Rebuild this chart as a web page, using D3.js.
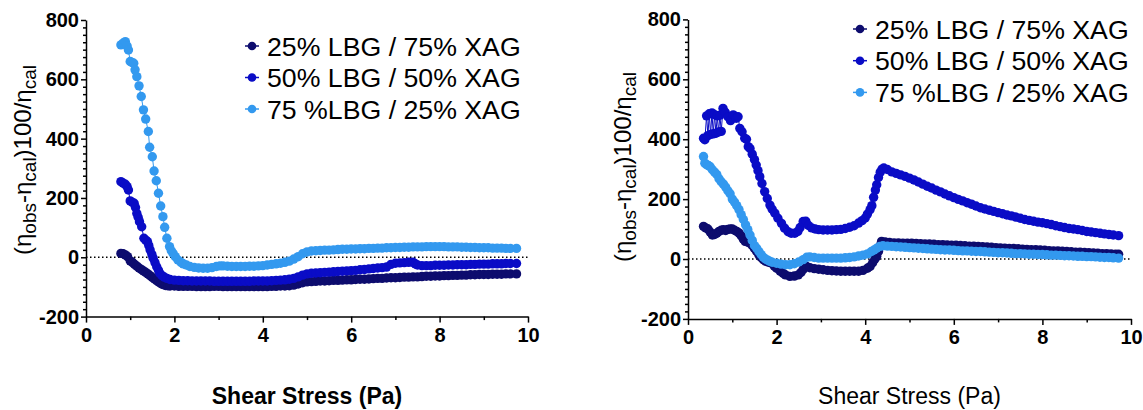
<!DOCTYPE html>
<html>
<head>
<meta charset="utf-8">
<script src="https://cdn.jsdelivr.net/npm/d3@7"></script>
<style>
  body { margin: 0; background: #fff; }
  svg { display: block; }
  text { font-family: "Liberation Sans", Arial, Helvetica, sans-serif; fill: #000; }
</style>
</head>
<body>
<svg id="chart" width="1143" height="410"></svg>
<script>
// ---- tick values ----
const xTickValues = [0, 2, 4, 6, 8, 10];
const xMinorValues = [1, 3, 5, 7, 9];
const yTickValues = [-200, 0, 200, 400, 600, 800];
const yMinorValues = [-175, -150, -125, -100, -75, -50, -25, 25, 50, 75, 100, 125, 150, 175,
  225, 250, 275, 300, 325, 350, 375, 425, 450, 475, 500, 525, 550, 575,
  625, 650, 675, 700, 725, 750, 775];

// ---- series ----
const seriesNames = ["25% LBG / 75% XAG", "50% LBG / 50% XAG", "75 %LBG / 25% XAG"];
const seriesColors = ["#0d0c6e", "#0a0cc6", "#3399ef"];

// left panel: [shear stress (Pa), (ηobs-ηcal)100/ηcal]
const leftLBG25 = [[0.79,13],[0.84,12],[0.89,8],[0.94,2],[1.0,-12],[1.05,-17],[1.1,-24],[1.15,-30],[1.2,-36],[1.25,-41],
  [1.3,-46],[1.35,-51],[1.4,-56],[1.45,-62],[1.5,-68],[1.55,-73],[1.6,-79],[1.65,-84],[1.7,-89],[1.75,-92],[1.8,-95],
  [1.85,-96],[1.9,-97],[2.0,-97],[2.1,-98],[2.2,-98],[2.3,-98],[2.4,-98],[2.5,-99],[2.6,-99],[2.7,-99],[2.8,-99],
  [2.9,-98],[3.0,-98],[3.1,-99],[3.2,-99],[3.3,-99],[3.4,-99],[3.5,-99],[3.6,-99],[3.7,-99],[3.8,-99],[3.9,-99],
  [4.0,-99],[4.1,-99],[4.2,-98],[4.3,-98],[4.4,-97],[4.5,-97],[4.6,-96],[4.7,-94],[4.8,-90],[4.9,-86],[5.0,-83],
  [5.1,-82],[5.2,-81],[5.3,-80],[5.4,-80],[5.5,-79],[5.6,-78],[5.7,-78],[5.8,-77],[5.9,-76],[6.0,-76],[6.1,-75],
  [6.2,-74],[6.3,-74],[6.4,-73],[6.5,-72],[6.6,-71],[6.7,-71],[6.8,-70],[6.9,-69],[7.0,-69],[7.1,-68],[7.2,-67],
  [7.3,-67],[7.4,-66],[7.5,-66],[7.6,-65],[7.7,-64],[7.8,-64],[7.9,-63],[8.0,-63],[8.1,-62],[8.2,-62],[8.3,-61],
  [8.4,-61],[8.5,-60],[8.6,-60],[8.7,-59],[8.8,-59],[8.9,-58],[9.0,-58],[9.1,-58],[9.2,-57],[9.3,-57],[9.4,-57],
  [9.5,-56],[9.6,-56],[9.74,-56]];
const leftLBG50 = [[0.79,255],[0.84,250],[0.89,246],[0.93,238],[0.96,227],[1.0,190],[1.05,185],[1.09,182],[1.12,168],
  [1.15,148],[1.18,135],[1.21,120],[1.26,103],[1.31,64],[1.35,58],[1.39,53],[1.42,40],[1.45,25],[1.49,10],[1.52,-3],
  [1.56,-18],[1.6,-32],[1.64,-44],[1.67,-54],[1.72,-62],[1.77,-67],[1.83,-71],[1.9,-75],[2.0,-77],[2.1,-78],[2.2,-79],
  [2.3,-79],[2.4,-80],[2.5,-80],[2.6,-80],[2.7,-80],[2.8,-80],[2.9,-81],[3.0,-81],[3.1,-81],[3.2,-81],[3.3,-81],
  [3.4,-81],[3.5,-81],[3.6,-81],[3.7,-81],[3.8,-80],[3.9,-80],[4.0,-80],[4.1,-80],[4.2,-79],[4.3,-78],[4.4,-77],
  [4.5,-76],[4.6,-74],[4.7,-71],[4.8,-66],[4.9,-60],[5.0,-56],[5.1,-54],[5.2,-53],[5.3,-52],[5.4,-51],[5.5,-50],
  [5.6,-49],[5.7,-48],[5.8,-47],[5.9,-46],[6.0,-45],[6.1,-44],[6.2,-42],[6.3,-41],[6.4,-39],[6.5,-38],[6.6,-36],
  [6.7,-35],[6.8,-33],[6.9,-24],[7.0,-20],[7.1,-19],[7.2,-18],[7.3,-17],[7.4,-17],[7.45,-22],[7.5,-26],[7.6,-28],
  [7.7,-28],[7.8,-28],[7.9,-27],[8.0,-27],[8.1,-27],[8.2,-26],[8.3,-26],[8.4,-25],[8.5,-25],[8.6,-25],[8.7,-24],
  [8.8,-24],[8.9,-23],[9.0,-23],[9.1,-23],[9.2,-22],[9.3,-22],[9.4,-22],[9.5,-21],[9.6,-21],[9.74,-21]];
const leftLBG75 = [[0.79,716],[0.84,722],[0.89,727],[0.93,712],[0.96,699],[1.0,660],[1.04,657],[1.08,654],[1.11,632],
  [1.15,609],[1.2,578],[1.25,542],[1.3,497],[1.35,466],[1.41,424],[1.44,371],[1.5,339],[1.54,291],[1.59,258],
  [1.64,216],[1.69,173],[1.74,137],[1.78,101],[1.83,64],[1.89,36],[1.93,22],[1.97,13],[2.02,2],[2.08,-9],[2.15,-17],
  [2.2,-22],[2.27,-26],[2.35,-31],[2.45,-34],[2.55,-36],[2.65,-37],[2.75,-37],[2.85,-35],[2.95,-31],[3.03,-29],
  [3.1,-29],[3.2,-30],[3.3,-31],[3.4,-31],[3.5,-31],[3.6,-31],[3.7,-30],[3.8,-30],[3.9,-29],[4.0,-28],[4.1,-26],
  [4.2,-24],[4.3,-22],[4.4,-20],[4.5,-17],[4.6,-13],[4.7,-6],[4.8,2],[4.9,12],[5.0,18],[5.1,21],[5.2,22],[5.3,23],
  [5.4,24],[5.5,24],[5.6,25],[5.7,26],[5.8,27],[5.9,27],[6.0,28],[6.1,28],[6.2,29],[6.3,29],[6.4,30],[6.5,30],
  [6.6,31],[6.7,31],[6.8,32],[6.9,32],[7.0,33],[7.1,33],[7.2,34],[7.3,34],[7.4,35],[7.5,35],[7.6,35],[7.7,36],
  [7.8,36],[7.9,36],[8.0,36],[8.1,36],[8.2,35],[8.3,35],[8.4,35],[8.5,34],[8.6,34],[8.7,33],[8.8,33],[8.9,32],
  [9.0,32],[9.1,32],[9.2,31],[9.3,31],[9.4,31],[9.5,30],[9.6,30],[9.74,30]];

// right panel
const rightLBG25 = [[0.35,109],[0.4,104],[0.45,100],[0.5,90],[0.55,80],[0.6,82],[0.65,86],[0.7,92],[0.75,96],[0.8,98],
  [0.85,95],[0.9,99],[0.95,100],[1.0,100],[1.05,96],[1.1,92],[1.15,87],[1.2,78],[1.25,66],[1.29,59],[1.35,56],
  [1.4,53],[1.45,45],[1.5,35],[1.55,25],[1.6,14],[1.65,5],[1.7,-2],[1.75,-7],[1.8,-10],[1.87,-13],[1.95,-24],
  [2.0,-31],[2.08,-41],[2.15,-48],[2.2,-53],[2.3,-58],[2.4,-57],[2.49,-53],[2.55,-45],[2.6,-35],[2.68,-25],[2.75,-29],
  [2.85,-32],[2.95,-34],[3.05,-36],[3.15,-38],[3.25,-39],[3.35,-40],[3.45,-41],[3.55,-41],[3.65,-41],[3.75,-41],
  [3.85,-41],[3.95,-38],[4.05,-31],[4.11,-25],[4.17,-12],[4.22,0],[4.26,9],[4.3,25],[4.34,45],[4.37,59],[4.45,57],
  [4.55,55],[4.65,54],[4.75,54],[4.85,53],[4.95,53],[5.05,53],[5.15,52],[5.25,51],[5.35,50],[5.45,50],[5.55,49],
  [5.65,48],[5.75,48],[5.85,47],[5.95,46],[6.05,46],[6.15,45],[6.25,44],[6.35,43],[6.45,43],[6.55,42],[6.65,41],
  [6.75,40],[6.85,39],[6.95,38],[7.05,37],[7.15,36],[7.25,35],[7.35,35],[7.45,34],[7.55,33],[7.65,32],[7.75,31],
  [7.85,31],[7.95,30],[8.05,29],[8.15,28],[8.25,27],[8.35,27],[8.45,26],[8.55,25],[8.65,24],[8.75,23],[8.85,23],
  [8.95,22],[9.05,21],[9.15,20],[9.25,19],[9.35,18],[9.45,18],[9.55,17],[9.65,16],[9.72,16]];
const rightLBG50 = [[0.35,403],[0.38,398],[0.42,478],[0.45,412],[0.48,485],[0.51,416],[0.54,488],[0.57,418],[0.6,482],
  [0.63,420],[0.66,478],[0.69,424],[0.72,480],[0.75,426],[0.79,503],[0.84,490],[0.9,475],[0.96,462],[1.02,481],
  [1.06,476],[1.09,470],[1.13,475],[1.17,436],[1.22,425],[1.28,403],[1.32,400],[1.36,375],[1.4,369],[1.45,350],
  [1.5,332],[1.54,314],[1.58,295],[1.62,275],[1.67,252],[1.73,225],[1.79,202],[1.85,180],[1.9,166],[1.96,153],
  [2.03,136],[2.11,119],[2.18,103],[2.26,91],[2.33,86],[2.41,86],[2.48,92],[2.53,105],[2.6,125],[2.66,126],
  [2.72,112],[2.79,104],[2.87,100],[2.95,98],[3.05,97],[3.15,97],[3.25,97],[3.35,98],[3.45,99],[3.55,102],
  [3.65,106],[3.75,111],[3.85,120],[3.93,128],[4.0,137],[4.05,150],[4.11,165],[4.15,178],[4.19,206],[4.23,230],
  [4.26,248],[4.3,272],[4.34,290],[4.38,300],[4.42,304],[4.5,299],[4.6,291],[4.7,286],[4.8,281],[4.9,276],[5.0,270],
  [5.1,264],[5.2,257],[5.3,250],[5.4,243],[5.5,237],[5.6,230],[5.7,224],[5.8,217],[5.9,211],[6.0,205],[6.1,199],
  [6.2,194],[6.3,188],[6.4,183],[6.5,177],[6.6,171],[6.7,167],[6.8,163],[6.9,159],[7.0,155],[7.1,151],[7.2,147],
  [7.3,144],[7.4,140],[7.5,136],[7.6,132],[7.7,129],[7.8,126],[7.9,123],[8.0,121],[8.1,118],[8.2,115],[8.3,111],
  [8.4,108],[8.5,105],[8.6,102],[8.7,100],[8.8,98],[8.9,95],[9.0,92],[9.1,90],[9.2,88],[9.3,86],[9.4,84],[9.5,82],
  [9.6,80],[9.72,78]];
const rightLBG75 = [[0.35,342],[0.38,320],[0.42,315],[0.46,312],[0.5,308],[0.55,298],[0.6,290],[0.65,282],[0.7,268],
  [0.75,258],[0.8,250],[0.85,240],[0.9,228],[0.95,218],[1.0,200],[1.05,190],[1.1,178],[1.15,165],[1.2,148],
  [1.25,132],[1.3,114],[1.35,98],[1.4,80],[1.45,62],[1.5,45],[1.55,36],[1.6,25],[1.65,15],[1.7,6],[1.75,0],[1.8,-4],
  [1.85,-8],[1.9,-11],[2.0,-14],[2.1,-17],[2.2,-19],[2.3,-19],[2.4,-16],[2.5,-10],[2.6,-2],[2.68,6],[2.75,7],
  [2.85,5],[2.95,3],[3.05,3],[3.15,3],[3.25,3],[3.35,3],[3.45,3],[3.55,4],[3.65,5],[3.75,7],[3.85,10],[3.95,13],
  [4.05,17],[4.14,25],[4.2,30],[4.26,36],[4.33,42],[4.4,44],[4.5,43],[4.6,42],[4.7,41],[4.8,40],[4.9,39],[5.0,38],
  [5.1,37],[5.2,36],[5.3,35],[5.4,34],[5.5,33],[5.6,32],[5.7,31],[5.8,30],[5.9,30],[6.0,29],[6.1,28],[6.2,27],
  [6.3,27],[6.4,26],[6.5,25],[6.6,25],[6.7,24],[6.8,23],[6.9,22],[7.0,21],[7.1,21],[7.2,20],[7.3,19],[7.4,18],
  [7.5,18],[7.6,17],[7.7,16],[7.8,16],[7.9,15],[8.0,15],[8.1,14],[8.2,13],[8.3,13],[8.4,12],[8.5,11],[8.6,11],
  [8.7,10],[8.8,9],[8.9,9],[9.0,8],[9.1,8],[9.2,7],[9.3,6],[9.4,5],[9.5,5],[9.6,4],[9.72,3]];

const svg = d3.select("#chart");
const FONT = '"Liberation Sans", Arial, Helvetica, sans-serif';

function drawPanel(p) {
  const x = d3.scaleLinear().domain([0, 10]).range([p.left, p.right]);
  const y = d3.scaleLinear().domain([-200, 800]).range([p.bottom, p.top]);
  const g = svg.append("g");

  // zero reference line
  g.append("line")
    .attr("x1", x(0)).attr("x2", x(10)).attr("y1", y(0)).attr("y2", y(0))
    .attr("stroke", "#000").attr("stroke-width", 1.5).attr("stroke-dasharray", "1.5,2.5");

  // series: thin connecting line + filled markers
  const line = d3.line().x(d => x(d[0])).y(d => y(d[1]));
  p.series.forEach((s, i) => {
    g.append("path").datum(s).attr("d", line)
      .attr("fill", "none").attr("stroke", seriesColors[i]).attr("stroke-width", 1);
    g.append("g").selectAll("circle").data(s).join("circle")
      .attr("cx", d => x(d[0])).attr("cy", d => y(d[1])).attr("r", 4.7)
      .attr("fill", seriesColors[i]);
  });

  // axes (labels use a plain hyphen for negatives)
  const plain = d => String(d);
  const yAxis = g.append("g").attr("transform", `translate(${p.left},0)`)
    .call(d3.axisLeft(y).tickValues(yTickValues).tickFormat(plain).tickSize(5).tickSizeOuter(0).tickPadding(2));
  g.append("g").attr("transform", `translate(${p.left},0)`)
    .call(d3.axisLeft(y).tickValues(yMinorValues).tickSize(3).tickSizeOuter(0).tickFormat(""))
    .call(a => a.select(".domain").remove());
  const xAxis = g.append("g").attr("transform", `translate(0,${p.bottom})`)
    .call(d3.axisBottom(x).tickValues(xTickValues).tickFormat(plain).tickSize(6).tickSizeOuter(0).tickPadding(5));
  g.append("g").attr("transform", `translate(0,${p.bottom})`)
    .call(d3.axisBottom(x).tickValues(xMinorValues).tickSize(3.5).tickSizeOuter(0).tickFormat(""))
    .call(a => a.select(".domain").remove());
  g.selectAll(".domain, .tick line").attr("stroke", "#000").attr("stroke-width", 1.5);
  [yAxis, xAxis].forEach(a => a.selectAll("text")
    .attr("font-family", FONT).attr("font-size", 20).attr("font-weight", "bold").attr("fill", "#000"));

  // axis titles
  g.append("text")
    .attr("x", (p.left + p.right) / 2).attr("y", p.xTitleY)
    .attr("text-anchor", "middle").attr("font-size", 23)
    .attr("font-weight", p.xTitleBold ? "bold" : "normal")
    .text("Shear Stress (Pa)");

  const yt = g.append("text")
    .attr("transform", `translate(${p.yTitleX},${p.yTitleY}) rotate(-90)`)
    .attr("text-anchor", "middle").attr("font-size", 24);
  yt.append("tspan").text("(η");
  yt.append("tspan").attr("font-size", 19).attr("dy", 5).text("obs");
  yt.append("tspan").attr("dy", -5).text("-η");
  yt.append("tspan").attr("font-size", 19).attr("dy", 5).text("cal");
  yt.append("tspan").attr("dy", -5).text(")100/η");
  yt.append("tspan").attr("font-size", 19).attr("dy", 5).text("cal");

  // legend
  seriesNames.forEach((name, i) => {
    const ry = p.legendY + i * p.legendStep;
    g.append("line").attr("x1", p.legendX - 7).attr("x2", p.legendX + 7)
      .attr("y1", ry).attr("y2", ry).attr("stroke", seriesColors[i]).attr("stroke-width", 1.5);
    g.append("circle").attr("cx", p.legendX).attr("cy", ry).attr("r", 4.3).attr("fill", seriesColors[i]);
    g.append("text").attr("x", p.legendX + 15).attr("y", ry + 9.5)
      .attr("font-size", 26.7).text(name);
  });
}

drawPanel({
  left: 86, right: 528, top: 20, bottom: 316.6,
  series: [leftLBG25, leftLBG50, leftLBG75],
  xTitleY: 404, xTitleBold: true,
  yTitleX: 31, yTitleY: 160,
  legendX: 252, legendY: 46, legendStep: 31.5
});
drawPanel({
  left: 688, right: 1131, top: 19.4, bottom: 318.9,
  series: [rightLBG25, rightLBG50, rightLBG75],
  xTitleY: 404, xTitleBold: false,
  yTitleX: 631, yTitleY: 167,
  legendX: 860, legendY: 29, legendStep: 31.7
});
</script>
</body>
</html>
